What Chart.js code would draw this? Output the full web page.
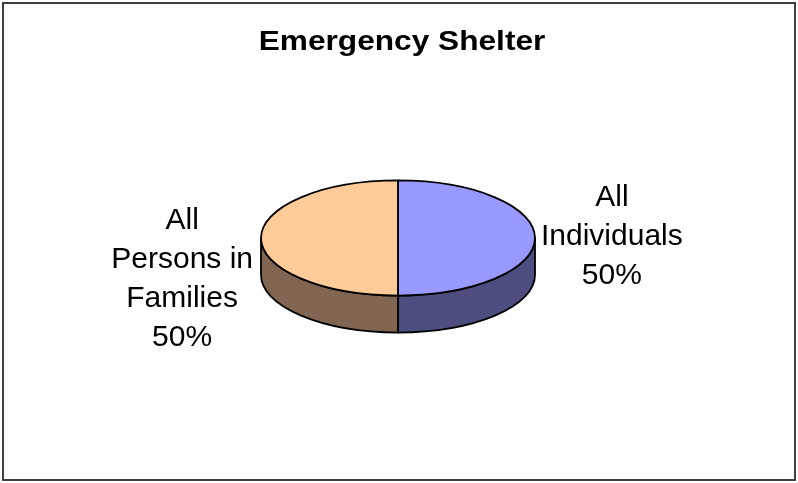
<!DOCTYPE html>
<html>
<head>
<meta charset="utf-8">
<script src="https://cdn.jsdelivr.net/npm/chart.js@4.4.1/dist/chart.umd.min.js"></script>
<style>
    body { margin: 0; background: #ffffff; }
    #wrap { width: 798px; height: 483px; }
</style>
</head>
<body>
<div id="wrap"><canvas id="chart" width="798" height="483"></canvas></div>
<script>
// Chart data
const chartTitle = 'Emergency Shelter';
const categories = [['All', 'Individuals'], ['All', 'Persons in', 'Families']];
const values = [50, 50];
const topColors = ['#9999FF', '#FFCC99'];
const sideColors = ['#4D4D80', '#806650'];

// 3D look
const TILT = 0.42;     // vertical squash of the pie top
const DEPTH = 37;      // thickness of the pie side

// Visible (front) part of a slice, clipped to angles 0..PI
function frontRanges(a1, a2) {
    const out = [];
    [0, 2 * Math.PI, -2 * Math.PI].forEach(base => {
        const s = Math.max(a1, base);
        const e = Math.min(a2, base + Math.PI);
        if (e > s) out.push([s, e]);
    });
    return out;
}

const pie3d = {
    id: 'pie3d',
    beforeDraw(chart) {
        const ctx = chart.ctx;
        // frame
        ctx.save();
        ctx.strokeStyle = '#404040';
        ctx.lineWidth = 2;
        ctx.strokeRect(3, 3, 792, 477);
        // title, slightly stretched like the original
        ctx.fillStyle = '#000000';
        ctx.font = 'bold 28px "Liberation Sans", Arial, sans-serif';
        ctx.textAlign = 'center';
        ctx.textBaseline = 'alphabetic';
        ctx.translate(402, 50);
        ctx.scale(1.13, 1);
        ctx.fillText(chartTitle, 0, 0);
        ctx.restore();
    },
    beforeDatasetsDraw(chart) {
        const ctx = chart.ctx;
        const arcs = chart.getDatasetMeta(0).data;
        // side walls first
        arcs.forEach((arc, i) => {
            const cx = arc.x, cy = arc.y;
            const rx = arc.outerRadius, ry = arc.outerRadius * TILT;
            frontRanges(arc.startAngle, arc.endAngle).forEach(([s, e]) => {
                ctx.save();
                ctx.beginPath();
                ctx.ellipse(cx, cy, rx, ry, 0, s, e, false);
                ctx.lineTo(cx + rx * Math.cos(e), cy + ry * Math.sin(e) + DEPTH);
                ctx.ellipse(cx, cy + DEPTH, rx, ry, 0, e, s, true);
                ctx.closePath();
                ctx.fillStyle = sideColors[i];
                ctx.fill();
                ctx.strokeStyle = '#000000';
                ctx.lineWidth = 1.8;
                ctx.lineJoin = 'round';
                ctx.stroke();
                ctx.restore();
            });
        });
        // squash the top face
        const a = arcs[0];
        ctx.save();
        ctx.translate(a.x, a.y);
        ctx.scale(1, TILT);
        ctx.translate(-a.x, -a.y);
    },
    afterDatasetsDraw(chart) {
        const ctx = chart.ctx;
        ctx.restore();
        const arcs = chart.getDatasetMeta(0).data;
        const total = values.reduce((s, v) => s + v, 0);
        arcs.forEach((arc, i) => {
            const cx = arc.x, cy = arc.y;
            const rx = arc.outerRadius, ry = arc.outerRadius * TILT;
            // outline of the top face
            ctx.save();
            ctx.beginPath();
            ctx.moveTo(cx, cy);
            ctx.ellipse(cx, cy, rx, ry, 0, arc.startAngle, arc.endAngle, false);
            ctx.closePath();
            ctx.strokeStyle = '#000000';
            ctx.lineWidth = 1.8;
            ctx.lineJoin = 'round';
            ctx.stroke();
            ctx.restore();

            // data label beside the slice
            const mid = (arc.startAngle + arc.endAngle) / 2;
            const lines = categories[i].concat([Math.round(values[i] / total * 100) + '%']);
            ctx.save();
            ctx.font = '30px "Liberation Sans", Arial, sans-serif';
            ctx.fillStyle = '#000000';
            ctx.textAlign = 'center';
            ctx.textBaseline = 'alphabetic';
            const lh = 39;
            const widest = Math.max(...lines.map(l => ctx.measureText(l).width));
            const ex = cx + rx * Math.cos(mid);
            const ey = cy + ry * Math.sin(mid);
            const right = Math.cos(mid) >= 0;
            const bx = right ? ex + 6 + widest / 2 : ex - 8 - widest / 2;
            const blockCenter = right ? ey - 3 : ey + 40;
            const firstBase = blockCenter - (lines.length * lh) / 2 + lh * 0.75;
            lines.forEach((l, k) => ctx.fillText(l, bx, firstBase + k * lh));
            ctx.restore();
        });
    }
};

new Chart(document.getElementById('chart'), {
    type: 'pie',
    data: {
        labels: categories.map(c => c.join(' ')),
        datasets: [{
            data: values,
            backgroundColor: topColors,
            borderWidth: 0
        }]
    },
    options: {
        responsive: false,
        animation: false,
        layout: {
            padding: { left: 261, right: 263, top: 101, bottom: 108 }
        },
        plugins: {
            legend: { display: false },
            tooltip: { enabled: false },
            title: { display: false }
        }
    },
    plugins: [pie3d]
});
</script>
</body>
</html>
